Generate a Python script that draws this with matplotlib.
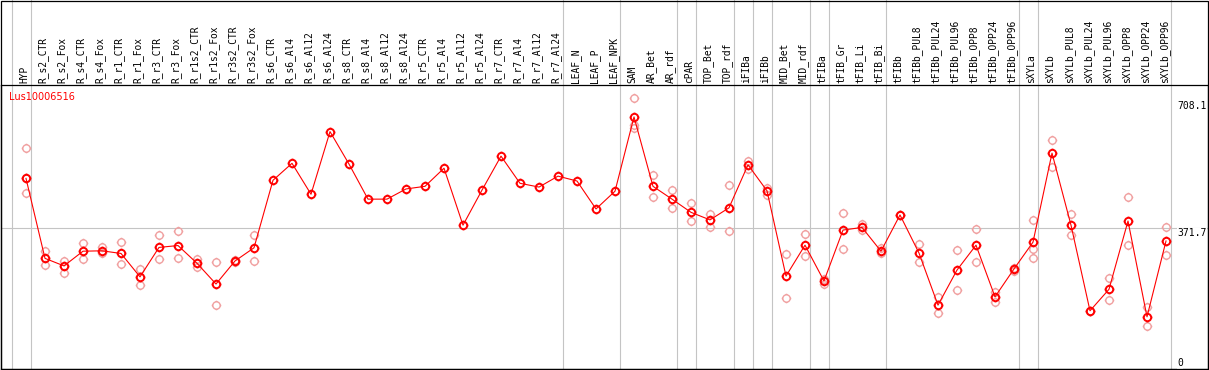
import matplotlib
matplotlib.use("Agg")
import matplotlib.pyplot as plt
from matplotlib.path import Path
from matplotlib.patches import Rectangle
from matplotlib.transforms import blended_transform_factory, offset_copy

gene = "Lus10006516"

samples = [
    "HYP", "R_s2_CTR", "R_s2_Fox", "R_s4_CTR", "R_s4_Fox", "R_r1_CTR", "R_r1_Fox",
    "R_r3_CTR", "R_r3_Fox", "R_r1s2_CTR", "R_r1s2_Fox", "R_r3s2_CTR", "R_r3s2_Fox",
    "R_s6_CTR", "R_s6_Al4", "R_s6_Al12", "R_s6_Al24", "R_s8_CTR", "R_s8_Al4",
    "R_s8_Al12", "R_s8_Al24", "R_r5_CTR", "R_r5_Al4", "R_r5_Al12", "R_r5_Al24",
    "R_r7_CTR", "R_r7_Al4", "R_r7_Al12", "R_r7_Al24", "LEAF_N", "LEAF_P", "LEAF_NPK",
    "SAM", "AR_Bet", "AR_rdf", "cPAR", "TOP_Bet", "TOP_rdf", "iFIBa", "iFIBb",
    "MID_Bet", "MID_rdf", "tFIBa", "tFIB_Gr", "tFIB_Li", "tFIB_Bi", "tFIBb",
    "tFIBb_PUL8", "tFIBb_PUL24", "tFIBb_PUL96", "tFIBb_OPP8", "tFIBb_OPP24",
    "tFIBb_OPP96", "sXYLa", "sXYLb", "sXYLb_PUL8", "sXYLb_PUL24", "sXYLb_PUL96",
    "sXYLb_OPP8", "sXYLb_OPP24", "sXYLb_OPP96",
]

# mean expression per sample
means = [
    504, 292, 272, 311, 312, 305, 243, 321, 326, 279, 224, 285, 320,
    499, 544, 462, 628, 542, 449, 449, 476, 483, 531, 380, 473, 563, 491, 481, 510,
    497, 423, 470,
    667, 483, 449, 414, 394, 426, 540, 471, 245, 327,
    232, 367, 374, 311, 407, 306, 168, 261, 327, 190, 264,
    335, 571, 380, 153, 210, 391, 137, 338,
]

# individual replicates (where distinguishable from the mean)
reps = [
    [584, 505, 465], [312, 274], [285, 254], [333, 290], [323, 307], [335, 276],
    [263, 221], [353, 290], [365, 292], [291, 268], [282, 168], [287, 283], [353, 284],
    [], [], [], [], [], [], [], [], [], [], [], [], [], [], [], [], [], [], [],
    [716, 638, 646], [512, 454], [472, 425], [438, 390], [410, 374], [486, 364],
    [551, 528], [479, 460], [304, 186], [357, 298],
    [237, 223], [412, 316], [383, 367], [320, 305], [407, 407], [330, 282],
    [189, 146], [314, 208], [370, 282], [203, 176], [267, 259],
    [394, 316, 293], [605, 533], [409, 354], [153, 153], [239, 182], [455, 327],
    [162, 112], [374, 300],
]

# separator lines drawn after these sample indices (-1 = before the first)
group_ends = [-1, 0, 28, 31, 34, 35, 37, 38, 39, 41, 42, 45, 52, 53, 60]

ref_level = 371.7
ytick_vals = [0, 371.7, 708.1]
ytick_labels = ["0", "371.7", "708.1"]

W, H = 1209, 370
fig = plt.figure(figsize=(W / 100, H / 100), dpi=100)

# plot box in pixel coordinates (top-down)
px_l, px_r, px_t, px_b = 1, 1208, 85, 368.5
col0, step = 26, 19
ax = fig.add_axes([px_l / W, 1 - px_b / H, (px_r - px_l) / W, (px_b - px_t) / H])
ax.set_xlim((px_l - col0) / step, (px_r - col0) / step)
ax.set_ylim(0, 751.6)
ax.set_xticks([])
ax.set_yticks([])
for sp in ax.spines.values():
    sp.set_linewidth(0.9)
    sp.set_color('black')

grey = '#c4c4c4'
head_top = 1 + px_t / (px_b - px_t)
trans_xa = blended_transform_factory(ax.transData, ax.transAxes)

# group separators (run through the header too)
for g in group_ends:
    ax.plot([g + 0.25, g + 0.25], [0, head_top], color=grey, lw=0.8,
            transform=trans_xa, clip_on=False, zorder=0.5)

# reference level
ax.axhline(ref_level, color=grey, lw=0.8, zorder=0.5)

# sample labels in header
lab_tr = offset_copy(trans_xa, fig=fig, x=-1.9, y=2, units='dots')
for i, s in enumerate(samples):
    ax.text(i, 1.0, s, rotation=90, ha='center', va='bottom', fontsize=6.9,
            family='DejaVu Sans Mono', transform=lab_tr, clip_on=False)

# marker: open circle with small ticks
circ = Path.unit_circle()
ticks = Path([(0, 1), (0, 1.3), (0, -1), (0, -1.3), (1, 0), (1.3, 0), (-1, 0), (-1.3, 0)],
             [Path.MOVETO, Path.LINETO] * 4)
sun = Path.make_compound_path(circ, ticks)

xs = list(range(len(samples)))
rx = [i for i, r in enumerate(reps) for _ in r]
ry = [v for r in reps for v in r]
ax.plot(rx, ry, ls='none', marker=sun, ms=6.9, mfc='none', mec='#f0a0a0', mew=1.0, zorder=2)
ax.plot(xs, means, color='red', lw=0.8, zorder=3)
ax.plot(xs, means, ls='none', marker=sun, ms=6.9, mfc='none', mec='red', mew=1.4, zorder=4)

# y labels on the right
ytr = blended_transform_factory(fig.transFigure, ax.transData)
for v, t in zip(ytick_vals, ytick_labels):
    ax.text(1177 / W, v, t, ha='left', va='bottom' if v == 0 else 'top',
            fontsize=7, family='DejaVu Sans Mono', transform=ytr,
            bbox=dict(facecolor='white', edgecolor='none', pad=0.3), zorder=5)

# gene name
ax.text(9 / W, 1 - 97.5 / H, gene, color='red', fontsize=7, ha='left', va='center',
        transform=fig.transFigure)

# outer frame including header
fig.add_artist(Rectangle((px_l / W, 1 - px_b / H), (px_r - px_l) / W, (px_b - 0.5) / H,
                         transform=fig.transFigure, fill=False, ec='black', lw=0.9))

fig.savefig('out.png', dpi=100)
